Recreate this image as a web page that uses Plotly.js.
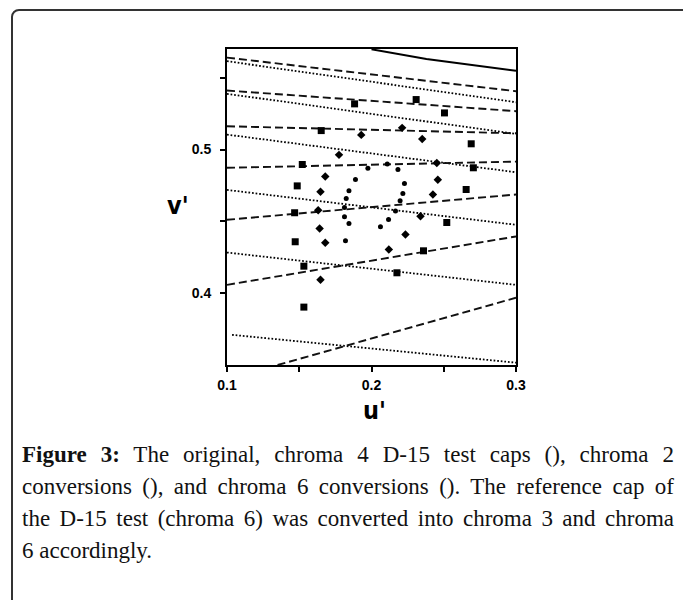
<!DOCTYPE html>
<html>
<head>
<meta charset="utf-8">
<script src="https://cdn.plot.ly/plotly-3.0.1.min.js"></script>
<style>
  html, body { margin: 0; padding: 0; background: #fff; }
  #wrap { position: relative; width: 683px; height: 600px; overflow: hidden; }
  #chart { position: absolute; left: 0; top: 0; width: 683px; height: 600px; }
  #frame { position: absolute; left: 11px; top: 9px; width: 720px; height: 640px;
           border: 2px solid #333; border-radius: 8px; pointer-events: none; }
  #caption { position: absolute; left: 22px; top: 439px; width: 652px;
             font-family: "Liberation Serif", "DejaVu Serif", serif; font-size: 23px;
             line-height: 32px; color: #111; }
  #caption .j { text-align: justify; text-align-last: justify; }
</style>
</head>
<body>
<div id="wrap">
  <div id="chart"></div>
  <div id="frame"></div>
  <div id="caption">
    <div class="j"><b>Figure 3:</b> The original, chroma 4 D-15 test caps (), chroma 2</div>
    <div class="j">conversions (), and chroma 6 conversions (). The reference cap of</div>
    <div class="j">the D-15 test (chroma 6) was converted into chroma 3 and chroma</div>
    <div>6 accordingly.</div>
  </div>
</div>
<script>
// ---- Data (u', v') ----
// chroma 6 conversions (squares)
const sqU = [0.1883, 0.2309, 0.2505, 0.1652, 0.2690, 0.1521, 0.2705, 0.1486,
             0.2655, 0.1468, 0.2521, 0.1472, 0.2360, 0.1532, 0.2176, 0.1532];
const sqV = [0.5318, 0.5348, 0.5255, 0.5132, 0.5040, 0.4896, 0.4873, 0.4747,
             0.4722, 0.4560, 0.4492, 0.4358, 0.4295, 0.4188, 0.4142, 0.3903];
// original chroma 4 caps (diamonds)
const dmU = [0.2212, 0.1929, 0.2351, 0.1775, 0.2452, 0.1680, 0.2459, 0.1647,
             0.2425, 0.1631, 0.2339, 0.1641, 0.2235, 0.1680, 0.2120, 0.1647];
const dmV = [0.5151, 0.5102, 0.5074, 0.4963, 0.4907, 0.4812, 0.4789, 0.4706,
             0.4687, 0.4578, 0.4536, 0.4450, 0.4408, 0.4351, 0.4304, 0.4093];
// chroma 2 conversions (dots)
const ciU = [0.1975, 0.2109, 0.2183, 0.1889, 0.2228, 0.1844, 0.1825, 0.2217,
             0.2198, 0.1813, 0.2166, 0.1813, 0.1844, 0.2118, 0.2062, 0.1820];
const ciV = [0.4870, 0.4900, 0.4861, 0.4791, 0.4763, 0.4713, 0.4659, 0.4694,
             0.4643, 0.4596, 0.4573, 0.4532, 0.4485, 0.4513, 0.4462, 0.4365];

// solid boundary line
const solidU = [0.2000, 0.2380, 0.3000];
const solidV = [0.5698, 0.5631, 0.5549];

// dashed lines: [u0, u1], [v0, v1]
const dashedU = [[0.1, 0.3], [0.1, 0.3], [0.1, 0.3], [0.1, 0.3], [0.1, 0.3], [0.1, 0.3], [0.135, 0.3]];
const dashedV = [[0.5640, 0.5406], [0.5411, 0.5267], [0.5162, 0.5113], [0.4873, 0.4916],
                 [0.4511, 0.4687], [0.4058, 0.4395], [0.3500, 0.3968]];
// dotted lines
const dottedU = [[0.1, 0.3], [0.1, 0.3], [0.1, 0.3], [0.1, 0.3], [0.1, 0.3], [0.1035, 0.3]];
const dottedV = [[0.5615, 0.5329], [0.5388, 0.5109], [0.5104, 0.4842], [0.4719, 0.4476],
                 [0.4283, 0.4058], [0.3710, 0.3516]];

const xTickVals = [0.1, 0.15, 0.2, 0.25, 0.3];
const xTickText = ['0.1', '', '0.2', '', '0.3'];
const yTickVals = [0.4, 0.45, 0.5, 0.55];
const yTickText = ['0.4', '', '0.5', ''];

// ---- Traces ----
const traces = [];
dottedU.forEach((u, i) => traces.push({
  type: 'scatter', mode: 'lines', x: u, y: dottedV[i], hoverinfo: 'skip',
  line: {color: '#000', width: 1.8, dash: '1.7px,1.9px'}
}));
dashedU.forEach((u, i) => traces.push({
  type: 'scatter', mode: 'lines', x: u, y: dashedV[i], hoverinfo: 'skip',
  line: {color: '#111', width: 1.9, dash: '8px,4px'}
}));
traces.push({type: 'scatter', mode: 'lines', x: solidU, y: solidV,
  line: {color: '#000', width: 2}});
traces.push({type: 'scatter', mode: 'markers', x: ciU, y: ciV,
  marker: {symbol: 'circle', size: 5, color: '#000'}});
traces.push({type: 'scatter', mode: 'markers', x: dmU, y: dmV,
  marker: {symbol: 'diamond', size: 6.5, color: '#000'}});
traces.push({type: 'scatter', mode: 'markers', x: sqU, y: sqV,
  marker: {symbol: 'square', size: 7, color: '#000'}});

const tickFont = {family: 'Liberation Sans, Arial, sans-serif', size: 14, color: '#000', weight: 'bold'};
const titleFont = {family: 'Liberation Sans Narrow, DejaVu Sans Condensed, Liberation Sans, sans-serif',
                   size: 25, color: '#000', weight: 'bold'};

const layout = {
  width: 683, height: 600,
  margin: {l: 227, r: 167, t: 49, b: 235, pad: 0},
  paper_bgcolor: 'rgba(0,0,0,0)', plot_bgcolor: '#fff',
  showlegend: false,
  xaxis: {
    range: [0.1, 0.3], tickvals: xTickVals, ticktext: xTickText,
    showgrid: false, zeroline: false, showline: true, mirror: true,
    linecolor: '#000', linewidth: 2, ticks: 'outside', ticklen: 5, tickwidth: 2,
    tickcolor: '#000', tickfont: tickFont, ticklabelstandoff: 1, fixedrange: true
  },
  yaxis: {
    range: [0.35, 0.57], tickvals: yTickVals, ticktext: yTickText,
    showgrid: false, zeroline: false, showline: true, mirror: true,
    linecolor: '#000', linewidth: 2, ticks: 'outside', ticklen: 5, tickwidth: 2,
    tickcolor: '#000', tickfont: tickFont, ticklabelstandoff: 6, fixedrange: true
  },
  annotations: [
    {text: "v'", xref: 'paper', yref: 'paper', x: -0.1696, y: 0.505,
     xanchor: 'center', yanchor: 'middle', showarrow: false, font: titleFont},
    {text: "u'", xref: 'paper', yref: 'paper', x: 0.5087, y: -0.145,
     xanchor: 'center', yanchor: 'middle', showarrow: false, font: titleFont}
  ]
};

Plotly.newPlot('chart', traces, layout, {staticPlot: true, displayModeBar: false});
</script>
</body>
</html>
